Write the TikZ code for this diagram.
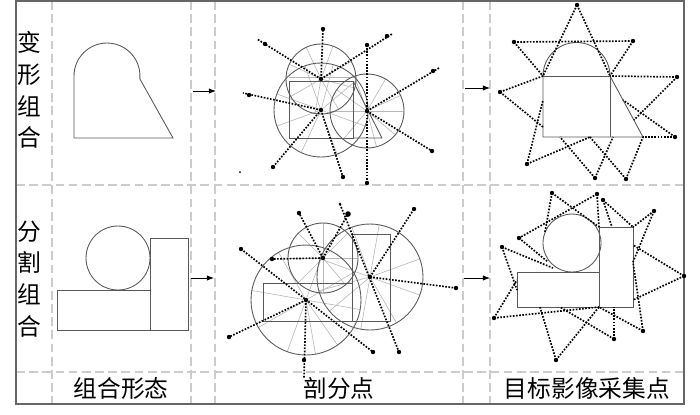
\documentclass[tikz,border=0pt]{standalone}
\usepackage{fontspec}
\newfontfamily\cjk{Noto Sans CJK SC}
\usetikzlibrary{arrows.meta}

\begin{document}
\begin{tikzpicture}[x=0.02cm,y=-0.02cm,
    frame/.style={draw=black!60,line width=0.6pt},
    gridline/.style={draw=black!20,line width=0.6pt,dash pattern=on 5pt off 2.5pt},
    outline/.style={draw=black!65,line width=0.5pt},
    spoke/.style={draw=black!28,line width=0.35pt},
    ray/.style={draw=black,line width=0.95pt,dash pattern=on 0.95pt off 0.85pt},
    lbl/.style={font=\cjk\fontsize{13.5pt}{18.1pt}\selectfont,inner sep=0pt},
    flow/.style={-{Latex[length=4pt,width=3pt]},line width=0.5pt}]
  \useasboundingbox (0,0) rectangle (700,414);

  % Drawing grid and frame
  \foreach \x in {52,191,215,463,490} \draw[gridline] (\x,1) -- (\x,404);
  \foreach \y in {185,372} \draw[gridline] (16,\y) -- (684,\y);
  \draw[frame] (16,1) rectangle (684,404);

  % Marking row and column titles
  \node[lbl,align=center] (rowone) at (29,90) {变\\形\\组\\合};
  \node[lbl,align=center] (rowtwo) at (29,279) {分\\割\\组\\合};
  \node[lbl] (colone) at (121,388) {组合形态};
  \node[lbl] (coltwo) at (339,388) {剖分点};
  \node[lbl] (colthree) at (587,388) {目标影像采集点};

  % Drawing arrows between columns
  \coordinate (fa) at (193,91);  \coordinate (fb) at (216,91);
  \coordinate (fc) at (465,88);  \coordinate (fd) at (490,88);
  \coordinate (fe) at (191,278); \coordinate (ff) at (214,278);
  \coordinate (fg) at (464,278); \coordinate (fh) at (490,278);
  \draw[flow] (fa) -- (fb);
  \draw[flow] (fc) -- (fd);
  \draw[flow] (fe) -- (ff);
  \draw[flow] (fg) -- (fh);

  % Drawing deformed shape
  \draw[outline] (74,138) -- (74,76) arc[start angle=180,end angle=365,radius=33] -- (173,138) -- cycle;

  % Drawing split shape
  \draw[outline] (118,258) circle[radius=32];
  \draw[outline] (57,290) rectangle (150,330);
  \draw[outline] (150,238) rectangle (188,330);

  % Marking centres of deformed parts
  \coordinate (ca) at (321,79);
  \coordinate (cb) at (321,110);
  \coordinate (cc) at (367,111);
  \foreach \a in {15,60,100,150,205,245,290,330} \draw[spoke] (ca) -- ++(\a:35);
  \foreach \a in {20,70,115,160,200,250,285,320} \draw[spoke] (cb) -- ++(\a:47);
  \foreach \a in {0,40,75,130,180,215,250,300,335} \draw[spoke] (cc) -- ++(\a:37);
  \draw[spoke] (289,77) -- (356,77);
  \draw[outline] (289,81) rectangle (353,138);
  \draw[outline] (353,81) -- (382,138) -- (353,138);
  \draw[outline] (ca) circle[radius=35];
  \draw[outline] (cb) circle[radius=47];
  \draw[outline] (cc) circle[radius=37];

  % Drawing rays of deformed parts
  \foreach \n/\x/\y in {a1/323/29,a2/265/44,a2e/257/39,a3/387/36,a3e/392/34,
      b1/249/95,b1e/243/93,b2/273/167,b3/343/177,
      c1/367/45,c2/367/183,c3/433/71,c3e/439/68,c4/432/151}
    \coordinate (\n) at (\x,\y);
  \foreach \p/\q in {ca/a1,ca/a2e,ca/a3e,cb/b1e,cb/b2,cb/b3,c1/c2,cc/c3e,cc/c4}
    \draw[ray] (\p) -- (\q);
  \foreach \p in {ca,cb,cc,a1,a2,a3,b1,b2,b3,c1,c2,c3,c4}
    \fill (\p) circle[radius=2.2];
  \fill (240,172) circle[radius=1];

  % Marking centres of split parts
  \coordinate (cs) at (323,258);
  \coordinate (cl) at (306,300);
  \coordinate (cr) at (370,277);
  \foreach \a in {0,50,90,135,180,225,270,315} \draw[spoke] (cs) -- ++(\a:35);
  \foreach \a in {10,55,80,110,150,190,240,290,330} \draw[spoke] (cl) -- ++(\a:55);
  \foreach \a in {20,60,100,140,165,200,250,280,340} \draw[spoke] (cr) -- ++(\a:53);
  \draw[outline] (263,283) rectangle (352,321);
  \draw[outline] (352,234) rectangle (390,321);
  \draw[outline] (cs) circle[radius=35];
  \draw[outline] (cl) circle[radius=55];
  \draw[outline] (cr) circle[radius=53];

  % Drawing rays of split parts
  \foreach \n/\x/\y in {s1/299/213,s2/348/214,s3/272/259,
      l1/241/249,l2/373/352,l3/229/337,l4/304/360,l4e/304/378,
      r1/340/204,r2/399/352,r3/414/209,r4/456/288}
    \coordinate (\n) at (\x,\y);
  \foreach \p/\q in {cs/s1,cs/s2,cs/s3,l1/l2,cl/l3,cl/l4e,r1/r2,cr/r3,cr/r4}
    \draw[ray] (\p) -- (\q);
  \foreach \p in {cs,cl,cr,s1,s3,l1,l2,l3,l4,r2,r3,r4}
    \fill (\p) circle[radius=2.2];
  \fill (s2) circle[radius=2.8];
  \fill (r1) circle[radius=1.3];

  % Drawing deformed shape with acquisition points
  \draw[outline] (543,137) -- (543,76) arc[start angle=180,end angle=360,radius=33.5] -- (643,137) -- cycle;
  \draw[outline] (543,76) -- (610,76) -- (610,137);
  \foreach \n/\x/\y in {p1/577/5,p2/633/41,p3/677/77,p4/675/137,p5/626/179,
      p6/595/178,p7/527/164,p8/500/92,p9/514/42,
      u1/543/76,u2/610/76,u3/634/120,u4/643/137,u5/623/100,u6/590/137,
      u7/560/137,u8/613/137,u9/543/100,u10/543/127}
    \coordinate (\n) at (\x,\y);
  \foreach \p/\q in {p1/u1,p1/u2,p9/p2,p9/u1,p2/u2,p3/u2,p3/u3,p4/u4,p4/u5,
      p5/u6,p5/u4,p6/u7,p6/u8,p7/u9,p7/u6,p8/u1,p8/u10}
    \draw[ray] (\p) -- (\q);
  \foreach \p in {p1,p2,p3,p4,p5,p6,p7,p8,p9}
    \fill (\p) circle[radius=2.2];

  % Drawing split shape with acquisition points
  \draw[outline] (572,243) circle[radius=29];
  \draw[outline] (517,272) rectangle (599,307);
  \draw[outline] (599,227) rectangle (633,307);
  \foreach \n/\x/\y in {q1/552/193,q2/597/194,q3/603/200,q4/654/211,q5/684/276,
      q6/643/331,q7/614/339,q8/556/360,q9/494/318,q10/502/247,q11/519/238,
      v1/599/227,v2/545/232,v3/633/227,v4/612/227,v5/633/262,v6/633/245,
      v7/633/300,v8/599/307,v9/614/307,v10/560/307,v11/540/307,v12/517/280,
      v13/517/290,v14/553/268,v15/548/262}
    \coordinate (\n) at (\x,\y);
  \foreach \p/\q in {q1/v1,q1/v2,q2/q11,q2/v1,q3/v3,q3/v4,q4/v3,q4/v5,q5/v6,q5/v7,
      q6/v5,q6/v8,q7/v9,q7/v10,q8/v11,q8/v8,q9/v12,q9/v8,q10/v13,q10/v14,q11/v15}
    \draw[ray] (\p) -- (\q);
  \foreach \p in {q1,q2,q3,q4,q5,q6,q7,q8,q9,q10,q11}
    \fill (\p) circle[radius=2.2];
\end{tikzpicture}
\end{document}
